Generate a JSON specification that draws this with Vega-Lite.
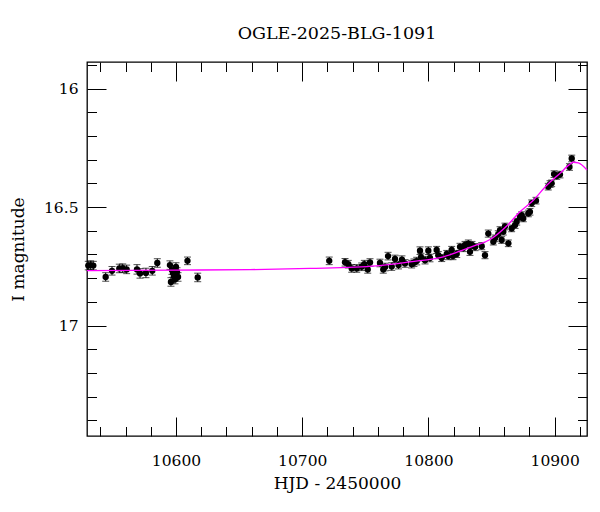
{
  "$schema": "https://vega.github.io/schema/vega-lite/v6.json",
  "width": 500,
  "height": 374,
  "autosize": {"type": "none"},
  "padding": {"left": 87, "top": 62, "right": 13, "bottom": 76},
  "background": "white",
  "title": {"text": "OGLE-2025-BLG-1091", "font": "DejaVu Serif", "fontSize": 17.5, "fontWeight": "normal", "color": "black", "offset": 15},
  "config": {
    "view": {"stroke": "black", "strokeWidth": 1.3},
    "axis": {"domain": false, "grid": false, "labelFont": "DejaVu Serif", "titleFont": "DejaVu Serif", "labelColor": "black", "titleColor": "black", "tickColor": "black", "tickWidth": 1, "labelFontSize": 15.5, "titleFontSize": 17, "titleFontWeight": "normal", "labelOverlap": false, "labelFlush": false, "labelBound": false}
  },
  "datasets": {
    "obs": [
      {"hjd": 10530.5, "mag": 16.747, "err": 0.018},
      {"hjd": 10532.4, "mag": 16.745, "err": 0.018},
      {"hjd": 10534.5, "mag": 16.747, "err": 0.018},
      {"hjd": 10544.3, "mag": 16.795, "err": 0.018},
      {"hjd": 10549.3, "mag": 16.769, "err": 0.018},
      {"hjd": 10555.1, "mag": 16.759, "err": 0.018},
      {"hjd": 10557.8, "mag": 16.758, "err": 0.018},
      {"hjd": 10560.9, "mag": 16.763, "err": 0.018},
      {"hjd": 10569.1, "mag": 16.763, "err": 0.02},
      {"hjd": 10571.5, "mag": 16.78, "err": 0.02},
      {"hjd": 10576.2, "mag": 16.778, "err": 0.02},
      {"hjd": 10581.2, "mag": 16.769, "err": 0.018},
      {"hjd": 10585.2, "mag": 16.736, "err": 0.018},
      {"hjd": 10595.2, "mag": 16.745, "err": 0.018},
      {"hjd": 10596.8, "mag": 16.766, "err": 0.018},
      {"hjd": 10597.6, "mag": 16.778, "err": 0.018},
      {"hjd": 10598.4, "mag": 16.793, "err": 0.018},
      {"hjd": 10599.2, "mag": 16.806, "err": 0.018},
      {"hjd": 10600.0, "mag": 16.753, "err": 0.018},
      {"hjd": 10600.8, "mag": 16.774, "err": 0.018},
      {"hjd": 10596.0, "mag": 16.816, "err": 0.018},
      {"hjd": 10601.6, "mag": 16.795, "err": 0.018},
      {"hjd": 10609.1, "mag": 16.727, "err": 0.016},
      {"hjd": 10617.2, "mag": 16.797, "err": 0.018},
      {"hjd": 10721.4, "mag": 16.727, "err": 0.016},
      {"hjd": 10733.9, "mag": 16.733, "err": 0.016},
      {"hjd": 10736.5, "mag": 16.741, "err": 0.016},
      {"hjd": 10739.2, "mag": 16.759, "err": 0.016},
      {"hjd": 10743.2, "mag": 16.759, "err": 0.016},
      {"hjd": 10747.1, "mag": 16.752, "err": 0.016},
      {"hjd": 10749.2, "mag": 16.741, "err": 0.016},
      {"hjd": 10751.9, "mag": 16.763, "err": 0.016},
      {"hjd": 10753.7, "mag": 16.734, "err": 0.016},
      {"hjd": 10761.6, "mag": 16.736, "err": 0.016},
      {"hjd": 10764.2, "mag": 16.763, "err": 0.016},
      {"hjd": 10765.6, "mag": 16.753, "err": 0.016},
      {"hjd": 10768.0, "mag": 16.707, "err": 0.016},
      {"hjd": 10770.9, "mag": 16.751, "err": 0.016},
      {"hjd": 10773.5, "mag": 16.719, "err": 0.016},
      {"hjd": 10776.3, "mag": 16.745, "err": 0.016},
      {"hjd": 10779.0, "mag": 16.722, "err": 0.016},
      {"hjd": 10781.4, "mag": 16.738, "err": 0.016},
      {"hjd": 10786.7, "mag": 16.741, "err": 0.016},
      {"hjd": 10788.5, "mag": 16.735, "err": 0.016},
      {"hjd": 10790.7, "mag": 16.728, "err": 0.016},
      {"hjd": 10793.3, "mag": 16.684, "err": 0.016},
      {"hjd": 10794.1, "mag": 16.711, "err": 0.016},
      {"hjd": 10797.3, "mag": 16.724, "err": 0.016},
      {"hjd": 10799.9, "mag": 16.684, "err": 0.016},
      {"hjd": 10801.2, "mag": 16.715, "err": 0.016},
      {"hjd": 10806.5, "mag": 16.681, "err": 0.015},
      {"hjd": 10807.8, "mag": 16.703, "err": 0.015},
      {"hjd": 10810.5, "mag": 16.715, "err": 0.015},
      {"hjd": 10814.5, "mag": 16.698, "err": 0.015},
      {"hjd": 10815.7, "mag": 16.707, "err": 0.015},
      {"hjd": 10818.4, "mag": 16.681, "err": 0.015},
      {"hjd": 10819.4, "mag": 16.707, "err": 0.015},
      {"hjd": 10822.4, "mag": 16.698, "err": 0.015},
      {"hjd": 10825.0, "mag": 16.668, "err": 0.015},
      {"hjd": 10827.6, "mag": 16.673, "err": 0.015},
      {"hjd": 10829.0, "mag": 16.66, "err": 0.015},
      {"hjd": 10831.6, "mag": 16.654, "err": 0.015},
      {"hjd": 10832.9, "mag": 16.689, "err": 0.015},
      {"hjd": 10834.5, "mag": 16.66, "err": 0.015},
      {"hjd": 10836.9, "mag": 16.669, "err": 0.015},
      {"hjd": 10842.2, "mag": 16.665, "err": 0.015},
      {"hjd": 10844.8, "mag": 16.703, "err": 0.015},
      {"hjd": 10847.4, "mag": 16.612, "err": 0.015},
      {"hjd": 10851.4, "mag": 16.646, "err": 0.014},
      {"hjd": 10852.7, "mag": 16.632, "err": 0.014},
      {"hjd": 10855.3, "mag": 16.614, "err": 0.014},
      {"hjd": 10856.7, "mag": 16.597, "err": 0.014},
      {"hjd": 10858.0, "mag": 16.639, "err": 0.014},
      {"hjd": 10859.3, "mag": 16.604, "err": 0.014},
      {"hjd": 10860.6, "mag": 16.582, "err": 0.014},
      {"hjd": 10863.3, "mag": 16.653, "err": 0.014},
      {"hjd": 10865.9, "mag": 16.59, "err": 0.014},
      {"hjd": 10868.6, "mag": 16.576, "err": 0.014},
      {"hjd": 10869.9, "mag": 16.562, "err": 0.014},
      {"hjd": 10872.5, "mag": 16.542, "err": 0.014},
      {"hjd": 10873.9, "mag": 16.534, "err": 0.014},
      {"hjd": 10875.1, "mag": 16.548, "err": 0.014},
      {"hjd": 10879.1, "mag": 16.527, "err": 0.014},
      {"hjd": 10880.4, "mag": 16.52, "err": 0.014},
      {"hjd": 10881.8, "mag": 16.484, "err": 0.014},
      {"hjd": 10885.2, "mag": 16.473, "err": 0.014},
      {"hjd": 10894.9, "mag": 16.414, "err": 0.014},
      {"hjd": 10896.3, "mag": 16.403, "err": 0.014},
      {"hjd": 10897.6, "mag": 16.4, "err": 0.014},
      {"hjd": 10899.5, "mag": 16.361, "err": 0.014},
      {"hjd": 10901.6, "mag": 16.369, "err": 0.014},
      {"hjd": 10904.2, "mag": 16.363, "err": 0.014},
      {"hjd": 10911.7, "mag": 16.331, "err": 0.014},
      {"hjd": 10913.5, "mag": 16.295, "err": 0.014}
    ],
    "model": [
      {"hjd": 10529.5, "mag": 16.768},
      {"hjd": 10600.0, "mag": 16.766},
      {"hjd": 10658.6, "mag": 16.764},
      {"hjd": 10706.2, "mag": 16.759},
      {"hjd": 10759.0, "mag": 16.748},
      {"hjd": 10785.4, "mag": 16.731},
      {"hjd": 10811.8, "mag": 16.71},
      {"hjd": 10825.0, "mag": 16.686},
      {"hjd": 10838.2, "mag": 16.66},
      {"hjd": 10848.8, "mag": 16.637},
      {"hjd": 10862.0, "mag": 16.58},
      {"hjd": 10872.5, "mag": 16.52},
      {"hjd": 10883.1, "mag": 16.471},
      {"hjd": 10893.7, "mag": 16.408},
      {"hjd": 10904.2, "mag": 16.358},
      {"hjd": 10912.1, "mag": 16.319},
      {"hjd": 10914.7, "mag": 16.311},
      {"hjd": 10918.7, "mag": 16.314},
      {"hjd": 10925.6, "mag": 16.344}
    ]
  },
  "layer": [
    {
      "data": {"name": "obs"},
      "mark": {"type": "errorbar", "ticks": {"size": 7, "color": "black"}, "rule": {"color": "black", "strokeWidth": 1}, "color": "black"},
      "encoding": {
        "x": {"field": "hjd", "type": "quantitative", "scale": {"domain": [10529.5, 10925.6], "nice": false, "zero": false}, "axis": null},
        "y": {"field": "mag", "type": "quantitative", "scale": {"domain": [15.888, 17.466], "nice": false, "zero": false, "reverse": true}, "axis": null},
        "yError": {"field": "err"}
      }
    },
    {
      "data": {"name": "obs"},
      "mark": {"type": "point", "filled": true, "color": "black", "opacity": 1, "size": 40},
      "encoding": {
        "x": {"field": "hjd", "type": "quantitative", "scale": {"domain": [10529.5, 10925.6], "nice": false, "zero": false},
          "axis": {"orient": "top", "title": null, "labels": false, "values": [10540, 10560, 10580, 10600, 10620, 10640, 10660, 10680, 10700, 10720, 10740, 10760, 10780, 10800, 10820, 10840, 10860, 10880, 10900, 10920],
            "tickSize": {"condition": {"test": "datum.value % 100 === 0", "value": -19}, "value": -9.5}}},
        "y": {"field": "mag", "type": "quantitative", "scale": {"domain": [15.888, 17.466], "nice": false, "zero": false, "reverse": true},
          "axis": {"orient": "right", "title": null, "labels": false, "values": [15.9, 16.0, 16.1, 16.2, 16.3, 16.4, 16.5, 16.6, 16.7, 16.8, 16.9, 17.0, 17.1, 17.2, 17.3, 17.4],
            "tickSize": {"condition": {"test": "abs(datum.value*2 - round(datum.value*2)) < 0.001", "value": -19}, "value": -9.5}}}
      }
    },
    {
      "data": {"name": "model"},
      "mark": {"type": "line", "color": "#ff00ff", "strokeWidth": 1.3, "interpolate": "monotone"},
      "encoding": {
        "x": {"field": "hjd", "type": "quantitative", "scale": {"domain": [10529.5, 10925.6], "nice": false, "zero": false},
          "axis": {"orient": "bottom", "title": "HJD - 2450000", "format": "d", "values": [10540, 10560, 10580, 10600, 10620, 10640, 10660, 10680, 10700, 10720, 10740, 10760, 10780, 10800, 10820, 10840, 10860, 10880, 10900, 10920],
            "labelExpr": "datum.value % 100 === 0 ? datum.label : ''",
            "tickSize": {"condition": {"test": "datum.value % 100 === 0", "value": -19}, "value": -9.5},
            "labelPadding": 36, "titlePadding": -3}},
        "y": {"field": "mag", "type": "quantitative", "scale": {"domain": [15.888, 17.466], "nice": false, "zero": false, "reverse": true},
          "axis": {"orient": "left", "title": "I magnitude", "values": [15.9, 16.0, 16.1, 16.2, 16.3, 16.4, 16.5, 16.6, 16.7, 16.8, 16.9, 17.0, 17.1, 17.2, 17.3, 17.4],
            "labelExpr": "abs(datum.value-16)<0.001 ? '16' : abs(datum.value-16.5)<0.001 ? '16.5' : abs(datum.value-17)<0.001 ? '17' : ''",
            "tickSize": {"condition": {"test": "abs(datum.value*2 - round(datum.value*2)) < 0.001", "value": -19}, "value": -9.5},
            "labelPadding": 28, "titlePadding": 16}}
      }
    }
  ],
  "resolve": {"axis": {"x": "independent", "y": "independent"}}
}
